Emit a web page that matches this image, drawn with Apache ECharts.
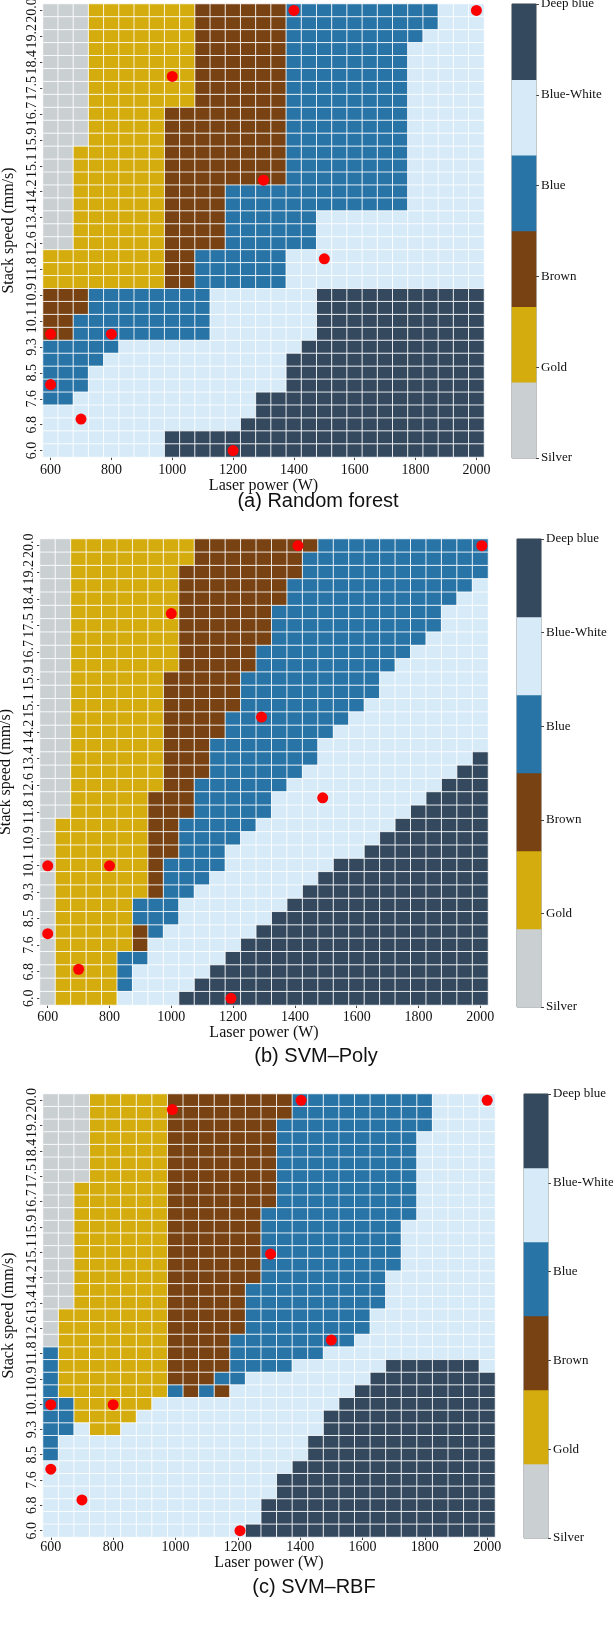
<!DOCTYPE html>
<html>
<head>
<meta charset="utf-8">
<script src="https://cdn.jsdelivr.net/npm/echarts@6/dist/echarts.min.js"></script>
<style>
html, body { margin: 0; padding: 0; background: #fff; }
#chart { width: 613px; height: 1636px; }
</style>
</head>
<body>
<div id="chart"></div>
<script>
// classes, bottom to top of the colour bar
const classNames = ['Silver', 'Gold', 'Brown', 'Blue', 'Blue-White', 'Deep blue']
const classColors = ['#cacfd2', '#d4ac0d', '#784212', '#2874a6', '#d6eaf8', '#34495e']
const classCodes = 'SGRBWD'

const laserPower = ['600', '650', '700', '750', '800', '850', '900', '950', '1000', '1050',
    '1100', '1150', '1200', '1250', '1300', '1350', '1400', '1450', '1500', '1550',
    '1600', '1650', '1700', '1750', '1800', '1850', '1900', '1950', '2000']

const stackSpeed = ['6.0', '6.4', '6.8', '7.2', '7.6', '8.1', '8.5', '8.9', '9.3', '9.7',
    '10.1', '10.5', '10.9', '11.4', '11.8', '12.2', '12.6', '13.0', '13.4', '13.8',
    '14.2', '14.6', '15.1', '15.5', '15.9', '16.3', '16.7', '17.1', '17.5', '17.9',
    '18.4', '18.8', '19.2', '19.6', '20.0']

// predicted class per row, top row (20.0) first, as runs left to right (600 -> 2000)
const rfRows = [
    'S3 G7 R6 B10 W3',
    'S3 G7 R6 B10 W3',
    'S3 G7 R6 B9 W4',
    'S3 G7 R6 B8 W5',
    'S3 G7 R6 B8 W5',
    'S3 G7 R6 B8 W5',
    'S3 G7 R6 B8 W5',
    'S3 G7 R6 B8 W5',
    'S3 G5 R8 B8 W5',
    'S3 G5 R8 B8 W5',
    'S3 G5 R8 B8 W5',
    'S2 G6 R8 B8 W5',
    'S2 G6 R8 B8 W5',
    'S2 G6 R8 B8 W5',
    'S2 G6 R4 B12 W5',
    'S2 G6 R4 B12 W5',
    'S2 G6 R4 B6 W11',
    'S2 G6 R4 B6 W11',
    'S2 G6 R4 B6 W11',
    'G8 R2 B6 W13',
    'G8 R2 B6 W13',
    'G8 R2 B6 W13',
    'R3 B8 W7 D11',
    'R3 B8 W7 D11',
    'R2 B9 W7 D11',
    'R2 B9 W7 D11',
    'B5 W12 D12',
    'B4 W12 D13',
    'B3 W13 D13',
    'B3 W13 D13',
    'B2 W12 D15',
    'W14 D15',
    'W13 D16',
    'W8 D21',
    'W8 D21'
]

const polyRows = [
    'S2 G8 R8 B11',
    'S2 G8 R7 B12',
    'S2 G7 R8 B12',
    'S2 G7 R7 B12 W1',
    'S2 G7 R7 B11 W2',
    'S2 G7 R6 B11 W3',
    'S2 G7 R6 B11 W3',
    'S2 G7 R6 B10 W4',
    'S2 G7 R5 B10 W5',
    'S2 G7 R5 B9 W6',
    'S2 G6 R5 B9 W7',
    'S2 G6 R5 B9 W7',
    'S2 G6 R5 B8 W8',
    'S2 G6 R4 B8 W9',
    'S2 G6 R4 B7 W10',
    'S2 G6 R3 B7 W11',
    'S2 G6 R3 B7 W10 D1',
    'S2 G6 R3 B6 W10 D2',
    'S2 G6 R2 B6 W10 D3',
    'S2 G5 R3 B5 W10 D4',
    'S2 G5 R3 B5 W9 D5',
    'S1 G6 R2 B5 W9 D6',
    'S1 G6 R2 B4 W9 D7',
    'S1 G6 R2 B3 W9 D8',
    'S1 G6 R1 B4 W7 D10',
    'S1 G6 R1 B3 W7 D11',
    'S1 G6 R1 B2 W7 D12',
    'S1 G5 B3 W7 D13',
    'S1 G5 B3 W6 D14',
    'S1 G5 R1 B1 W6 D15',
    'S1 G5 R1 W6 D16',
    'S1 G4 B2 W5 D17',
    'S1 G4 B1 W5 D18',
    'S1 G4 B1 W4 D19',
    'S1 G4 W4 D20'
]

const rbfRows = [
    'S3 G5 R8 B9 W4',
    'S3 G5 R8 B9 W4',
    'S3 G5 R7 B10 W4',
    'S3 G5 R7 B9 W5',
    'S3 G5 R7 B9 W5',
    'S3 G5 R7 B9 W5',
    'S3 G5 R7 B9 W5',
    'S2 G6 R7 B9 W5',
    'S2 G6 R7 B9 W5',
    'S2 G6 R6 B10 W5',
    'S2 G6 R6 B9 W6',
    'S2 G6 R6 B9 W6',
    'S2 G6 R6 B9 W6',
    'S2 G6 R6 B9 W6',
    'S2 G6 R6 B8 W7',
    'S2 G6 R5 B9 W7',
    'S2 G6 R5 B9 W7',
    'S1 G7 R5 B8 W8',
    'S1 G7 R5 B8 W8',
    'S1 G7 R4 B8 W9',
    'B1 G7 R4 B6 W11',
    'B1 G7 R4 B4 W6 D6 W1',
    'B1 G7 R3 B2 W8 D8',
    'B1 G7 B1 R1 B1 R1 W8 D9',
    'B2 G5 W12 D10',
    'B2 G4 W12 D11',
    'B2 W1 G2 W13 D11',
    'B1 W16 D12',
    'B1 W16 D12',
    'W16 D13',
    'W15 D14',
    'W15 D14',
    'W14 D15',
    'W14 D15',
    'W13 D16'
]

// experiment points [laser power, stack speed]
const rfDots = [[1400, 20.0], [2000, 20.0], [1000, 17.9], [1300, 14.6], [1500, 12.1],
    [600, 9.7], [800, 9.7], [600, 8.1], [700, 7.0], [1200, 6.0]]
const polyDots = [[1410, 20.0], [2005, 20.0], [1000, 17.9], [1292, 14.7], [1490, 12.2],
    [600, 10.1], [800, 10.1], [600, 8.0], [700, 6.9], [1193, 6.0]]
const rbfDots = [[1403, 20.0], [2000, 20.0], [990, 19.7], [1305, 15.0], [1500, 12.2],
    [600, 10.1], [800, 10.1], [600, 8.0], [700, 7.0], [1207, 6.0]]

const serif = '"Liberation Serif", "DejaVu Serif", serif'
const sans = '"Liberation Sans", Arial, sans-serif'

const panels = [
    { title: '(a) Random forest', rows: rfRows, dots: rfDots,
      grid: { left: 43, top: 4, width: 441, height: 453 },
      bar: { left: 512, top: 4, width: 24, height: 454 },
      titleX: 318, titleTop: 491, xNameGap: 15, xLabelMargin: 6 },
    { title: '(b) SVM\u2013Poly', rows: polyRows, dots: polyDots,
      grid: { left: 40, top: 539, width: 448, height: 466 },
      bar: { left: 517, top: 539, width: 24, height: 468 },
      titleX: 316, titleTop: 1046, xNameGap: 19, xLabelMargin: 5 },
    { title: '(c) SVM\u2013RBF', rows: rbfRows, dots: rbfDots,
      grid: { left: 43, top: 1094, width: 452, height: 443 },
      bar: { left: 524, top: 1094, width: 24, height: 444 },
      titleX: 314, titleTop: 1577, xNameGap: 14, xLabelMargin: 3 }
]

function expandRows(rows) {
    const out = []
    rows.forEach((row, r) => {
        const y = rows.length - 1 - r
        let x = 0
        row.split(' ').forEach(run => {
            const cls = classCodes.indexOf(run[0])
            const n = parseInt(run.slice(1))
            for (let k = 0; k < n; k++) {
                out.push([x, y, cls])
                x++
            }
        })
    })
    return out
}

const option = {
    animation: false,
    backgroundColor: '#fff',
    title: [],
    grid: [],
    xAxis: [],
    yAxis: [],
    series: [],
    visualMap: {
        type: 'piecewise',
        show: false,
        dimension: 2,
        seriesIndex: [],
        pieces: classColors.map((c, k) => ({ value: k, color: c }))
    }
}

panels.forEach(p => {
    const g = option.grid.length
    option.grid.push(Object.assign({ outerBoundsMode: 'none', containLabel: false }, p.grid))
    const xc = option.xAxis.length
    option.xAxis.push({
        type: 'category', gridIndex: g, data: laserPower, position: 'bottom',
        name: 'Laser power (W)', nameLocation: 'middle', nameGap: p.xNameGap,
        nameTextStyle: { fontFamily: serif, fontSize: 16, color: '#111' },
        axisLine: { show: false },
        axisTick: { show: true, interval: 3, alignWithLabel: true, length: 3, lineStyle: { color: '#444' } },
        axisLabel: { interval: 3, margin: p.xLabelMargin, fontFamily: serif, fontSize: 14, color: '#111' },
        splitLine: { show: false }
    })
    option.xAxis.push({ type: 'value', gridIndex: g, min: 575, max: 2025, show: false })
    const yc = option.yAxis.length
    option.yAxis.push({
        type: 'category', gridIndex: g, data: stackSpeed,
        name: 'Stack speed (mm/s)', nameLocation: 'middle', nameGap: 23,
        nameTextStyle: { fontFamily: serif, fontSize: 16, color: '#111' },
        axisLine: { show: false },
        axisTick: { show: true, interval: 1, alignWithLabel: true, length: 3, lineStyle: { color: '#444' } },
        axisLabel: { interval: 1, rotate: 90, margin: 4, fontFamily: serif, fontSize: 14, color: '#111' },
        splitLine: { show: false }
    })
    option.yAxis.push({ type: 'value', gridIndex: g, min: 5.794, max: 20.206, show: false })

    option.visualMap.seriesIndex.push(option.series.length)
    option.series.push({
        type: 'heatmap', xAxisIndex: xc, yAxisIndex: yc,
        data: expandRows(p.rows),
        itemStyle: { borderColor: 'rgba(255,255,255,0.85)', borderWidth: 1 },
        emphasis: { disabled: true }, silent: true
    })
    option.series.push({
        type: 'scatter', xAxisIndex: xc + 1, yAxisIndex: yc + 1,
        data: p.dots, symbolSize: 11, z: 5, silent: true,
        itemStyle: { color: '#ff0000', opacity: 1 }
    })

    option.title.push({
        text: p.title, left: p.titleX, top: p.titleTop, textAlign: 'center', padding: 0,
        textStyle: { fontFamily: sans, fontSize: 20, fontWeight: 'normal', color: '#111' }
    })
})

// colour bars
panels.forEach(p => {
    const g = option.grid.length
    option.grid.push(Object.assign({
        outerBoundsMode: 'none', containLabel: false,
        show: true, borderColor: '#7a7a7a', borderWidth: 1, backgroundColor: 'transparent'
    }, p.bar))
    const xc = option.xAxis.length
    option.xAxis.push({ type: 'category', gridIndex: g, data: ['class'], show: false })
    const yc = option.yAxis.length
    option.yAxis.push({ type: 'category', gridIndex: g, data: classNames, show: false })
    option.yAxis.push({
        type: 'value', gridIndex: g, position: 'right', min: 0, max: 5, interval: 1,
        axisLine: { show: false },
        axisTick: { show: true, length: 3, lineStyle: { color: '#444' } },
        splitLine: { show: false },
        axisLabel: {
            margin: 5, fontFamily: serif, fontSize: 13, color: '#111',
            formatter: v => classNames[v]
        }
    })
    option.visualMap.seriesIndex.push(option.series.length)
    option.series.push({
        type: 'heatmap', xAxisIndex: xc, yAxisIndex: yc,
        data: classNames.map((_, k) => [0, k, k]),
        itemStyle: { borderWidth: 0 },
        emphasis: { disabled: true }, silent: true
    })
})

const myChart = echarts.init(document.getElementById('chart'))
myChart.setOption(option)
</script>
</body>
</html>
